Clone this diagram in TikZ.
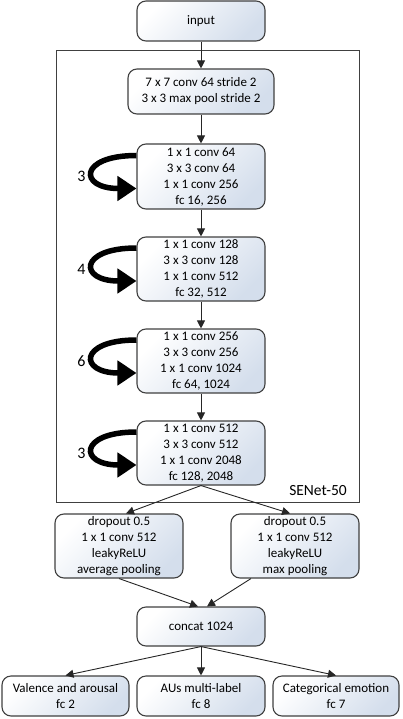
\documentclass[tikz,border=0pt]{standalone}
\usepackage{fontspec}
\setmainfont{Carlito}
\usetikzlibrary{arrows.meta}
\definecolor{boxblue}{RGB}{212,222,236}
\definecolor{edge}{RGB}{64,64,64}
\tikzset{
  blk/.style={draw=edge, line width=1.1pt, rounded corners=9pt, top color=white, bottom color=boxblue, shading angle=45,
    inner sep=0pt, align=center, font=\fontsize{13}{16}\selectfont},
  conn/.style={draw=black!85, line width=0.9pt, -{Triangle[length=8pt,width=8pt]}},
  loop/.style={draw=black, line width=5.5pt, -{Triangle[length=19pt,width=24pt]}},
  cnt/.style={font=\fontsize{16}{16}\selectfont, inner sep=0pt}
}
\begin{document}
\begin{tikzpicture}[x=1pt,y=-1pt]
\useasboundingbox (0,0) rectangle (402,719);
\node[draw=edge, line width=1pt, minimum width=303pt, minimum height=451pt, inner sep=0pt] (senet) at (207.5,276.5) {};
\node[font=\fontsize{15.5}{16}\selectfont, inner sep=0pt] (senetlbl) at (318,491) {SENet-50};

\node[blk, minimum width=128pt, minimum height=40pt] (in) at (201,21) {input};
\node[blk, minimum width=146pt, minimum height=45pt] (b1) at (201,91.5) {7 x 7 conv 64 stride 2\\3 x 3 max pool stride 2};
\node[blk, minimum width=128pt, minimum height=65pt] (b2) at (201,176.5) {1 x 1 conv 64\\3 x 3 conv 64\\1 x 1 conv 256\\fc 16, 256};
\node[blk, minimum width=128pt, minimum height=64pt] (b3) at (201,269) {1 x 1 conv 128\\3 x 3 conv 128\\1 x 1 conv 512\\fc 32, 512};
\node[blk, minimum width=128pt, minimum height=64pt] (b4) at (201,361) {1 x 1 conv 256\\3 x 3 conv 256\\1 x 1 conv 1024\\fc 64, 1024};
\node[blk, minimum width=128pt, minimum height=64pt] (b5) at (201,453) {1 x 1 conv 512\\3 x 3 conv 512\\1 x 1 conv 2048\\fc 128, 2048};

\node[blk, minimum width=128pt, minimum height=64pt] (dl) at (119,546) {dropout 0.5\\1 x 1 conv 512\\leakyReLU\\average pooling};
\node[blk, minimum width=128pt, minimum height=64pt] (dr) at (295,546) {dropout 0.5\\1 x 1 conv 512\\leakyReLU\\max pooling};
\node[blk, minimum width=128pt, minimum height=39pt] (cc) at (201,626.5) {concat 1024};

\node[blk, minimum width=127pt, minimum height=40pt] (va) at (65.5,696) {Valence and arousal\\fc 2};
\node[blk, minimum width=128pt, minimum height=40pt] (au) at (201,696) {AUs multi-label\\fc 8};
\node[blk, minimum width=126pt, minimum height=40pt] (ce) at (336,696) {Categorical emotion\\fc 7};

\draw[conn] (in.south) -- (b1.north);
\draw[conn] (b1.south) -- (b2.north);
\draw[conn] (b2.south) -- (b3.north);
\draw[conn] (b3.south) -- (b4.north);
\draw[conn] (b4.south) -- (b5.north);
\draw[conn] (b5.south) -- ([xshift=7pt]dl.north);
\draw[conn] (b5.south) -- ([xshift=-5pt]dr.north);
\draw[conn] (dl.south) -- ([xshift=-3pt]cc.north);
\draw[conn] ([xshift=-44pt]dr.south) -- ([xshift=6pt]cc.north);
\draw[conn] (cc.south) -- (va.north);
\draw[conn] (cc.south) -- (au.north);
\draw[conn] (cc.south) -- (ce.north);

\foreach \b/\n in {b2/3,b3/4,b4/6,b5/3}{
  \draw[loop] ([yshift=21pt]\b.east -| \b.west) .. controls +(-58pt,0) and +(-58pt,0) .. ([yshift=-12pt]\b.east -| \b.west);
  \node[cnt] (cnt\b) at ([xshift=-55pt]\b.west) {\n};
}
\end{tikzpicture}
\end{document}
